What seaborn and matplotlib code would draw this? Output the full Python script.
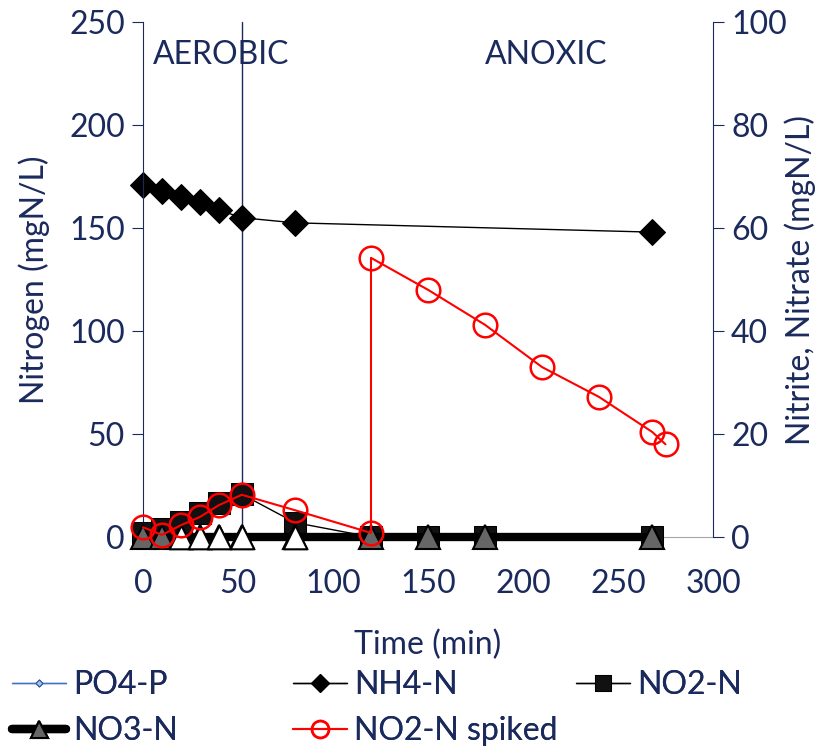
import matplotlib
matplotlib.use("Agg")
import matplotlib.pyplot as plt
import seaborn as sns
import numpy as np

# dados
t_nh4 = [0, 10, 20, 30, 40, 52, 80, 268]
nh4 = [171, 168, 165, 162.6, 158.7, 155, 152.5, 148]

t_po4 = [52]
po4 = [0.5]

t_no2 = [0, 10, 20, 30, 40, 52, 80, 120, 150, 180, 268]
no2 = [0.8, 1.5, 3.0, 4.7, 6.6, 8.3, 2.8, 0, 0, 0, 0]

t_no3 = [0, 10, 20, 30, 40, 52, 80, 120, 150, 180, 268]
no3 = [0, 0, 0, 0, 0, 0, 0, 0, 0, 0, 0]
no3_white = [False, False, True, True, True, True, True, False, False, False, False]

t_spk = [0, 10, 20, 30, 40, 52, 80, 120, 120, 150, 180, 210, 240, 268, 275]
spk = [1.9, 0.4, 2.3, 3.9, 6.2, 8.2, 5.2, 0.8, 54.2, 48, 41.2, 33, 27.2, 20.4, 18]

fase_aerobia_fim = 52

# estilos
navy = '#1B2A5C'
fs = 23

sns.set_style('white')
plt.rcParams['font.family'] = ['Lato', 'DejaVu Sans']

fig = plt.figure(figsize=(8.33, 7.53), dpi=100)
ax = fig.add_axes([143/833, 1-537/753, 570/833, 515/753])
ax2 = ax.twinx()

ax.axvline(fase_aerobia_fim, color=navy, lw=1, zorder=1)

sns.lineplot(x=t_po4, y=po4, ax=ax, estimator=None, sort=False, color='#4472C4',
             lw=1, marker='D', markersize=5, markerfacecolor='#9DC3E6',
             markeredgecolor='#2F5597', label='PO4-P')
sns.lineplot(x=t_nh4, y=nh4, ax=ax, estimator=None, sort=False, color='black',
             lw=1, marker='D', markersize=13, markerfacecolor='black',
             markeredgecolor='black', label='NH4-N')

sns.lineplot(x=t_no2, y=no2, ax=ax2, estimator=None, sort=False, color='black',
             lw=1, marker='s', markersize=16, markerfacecolor='#111111',
             markeredgecolor='black', label='NO2-N', zorder=2)
sns.lineplot(x=t_no3, y=no3, ax=ax2, estimator=None, sort=False, color='black',
             lw=6, marker='^', markersize=17, markerfacecolor='#666666',
             markeredgecolor='black', markeredgewidth=1.5, label='NO3-N', zorder=3)
m = np.array(no3_white)
ax2.scatter(np.array(t_no3)[m], np.array(no3)[m], marker='^', s=17**2,
            facecolor='white', edgecolor='black', linewidth=1.5, zorder=3.5,
            clip_on=False)
sns.lineplot(x=t_spk, y=spk, ax=ax2, estimator=None, sort=False, color='red',
             lw=1.5, marker='o', markersize=17, markerfacecolor='none',
             markeredgecolor='red', markeredgewidth=1.8, label='NO2-N spiked', zorder=4)

for a in (ax, ax2):
    for l in a.lines:
        l.set_clip_on(False)
    a.get_legend().remove()

ax.set_xlim(0, 300)
ax.set_ylim(0, 250)
ax2.set_ylim(0, 100)
ax.set_xticks(range(0, 301, 50))
ax.set_yticks(range(0, 251, 50))
ax2.set_yticks(range(0, 101, 20))

for a in (ax, ax2):
    for s in a.spines.values():
        s.set_visible(False)
ax.spines['left'].set_visible(True)
ax.spines['left'].set_color(navy)
ax.spines['bottom'].set_visible(True)
ax.spines['bottom'].set_color('#A6A6A6')
ax2.spines['right'].set_visible(True)
ax2.spines['right'].set_color(navy)

ax.tick_params(axis='y', direction='out', length=8, color=navy, labelcolor=navy,
               labelsize=fs, pad=5)
ax.tick_params(axis='x', direction='out', length=6, color='#A6A6A6', labelcolor=navy,
               labelsize=fs, pad=17)
ax2.tick_params(axis='y', direction='out', length=8, color=navy, labelcolor=navy,
                labelsize=fs, pad=5)

ax.set_xlabel('Time (min)', color=navy, fontsize=fs, labelpad=22)
ax.set_ylabel('Nitrogen (mgN/L)', color=navy, fontsize=fs, labelpad=14)
ax2.set_ylabel('Nitrite, Nitrate (mgN/L)', color=navy, fontsize=fs, labelpad=-2)

ax.text(5, 234, 'AEROBIC', color=navy, fontsize=fs, va='center', ha='left')
ax.text(212, 234, 'ANOXIC', color=navy, fontsize=fs, va='center', ha='center')

# legenda em tres colunas, posicionadas como no original
h1, l1 = ax.get_legend_handles_labels()
h2, l2 = ax2.get_legend_handles_labels()
hd = dict(zip(l1 + l2, h1 + h2))
colunas = [(['PO4-P', 'NO3-N'], 12), (['NH4-N', 'NO2-N spiked'], 293), (['NO2-N'], 576)]
for nomes, xpx in colunas:
    lg = fig.legend([hd[k] for k in nomes], nomes, loc='upper left',
                    bbox_to_anchor=(xpx/833, 1-670/753), frameon=False, fontsize=fs,
                    labelcolor=navy, handlelength=1.7, handletextpad=0.2,
                    borderaxespad=0, borderpad=0, markerscale=0.72, labelspacing=0.5)
    fig.add_artist(lg)

fig.savefig('out.png', dpi=100)
